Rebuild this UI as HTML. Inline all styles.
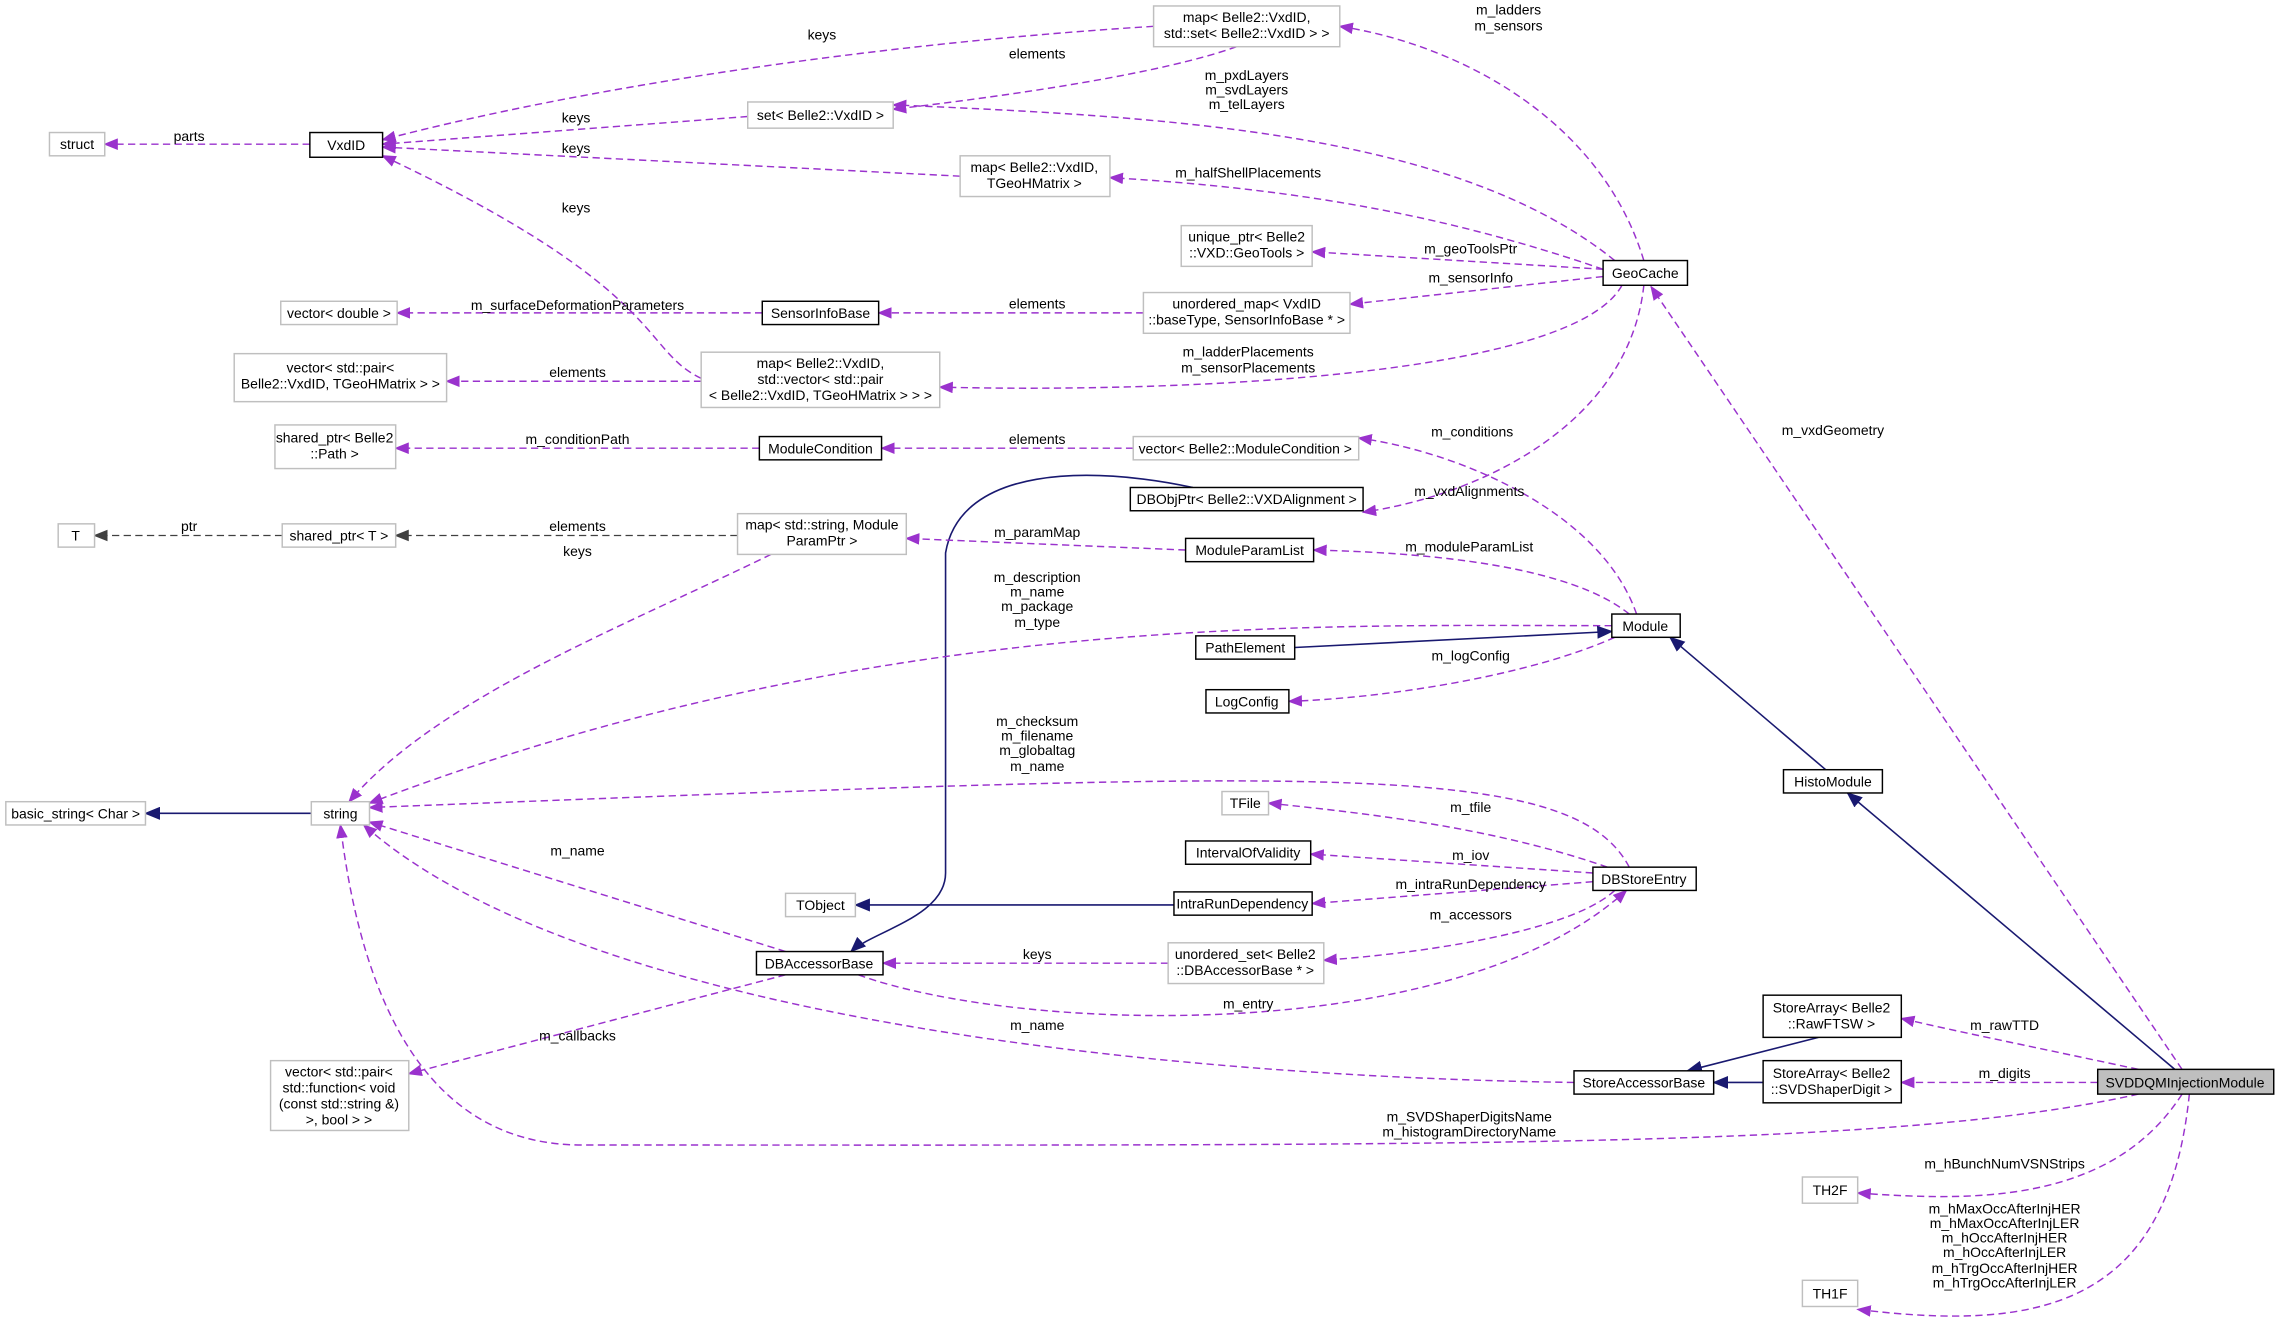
<!DOCTYPE html>
<html><head><meta charset="utf-8"><style>
html,body{margin:0;padding:0;background:#fff;}
svg{display:block;}
text{font-family:"Liberation Sans",sans-serif;font-size:9.6px;fill:#000;}
.g{fill:#fff;stroke:#bfbfbf;stroke-width:1;}
.b{fill:#fff;stroke:#000;stroke-width:1;}
.p{fill:none;stroke:#9a32cd;stroke-width:1;stroke-dasharray:5,3;}
.q{fill:none;stroke:#404040;stroke-width:0.8;stroke-dasharray:5,3;}
.n{fill:none;stroke:#191970;stroke-width:1.1;}
</style></head><body>
<svg width="2281" height="1327" viewBox="0 0 1568 912" xmlns="http://www.w3.org/2000/svg">
<defs>
<marker id="ap" markerWidth="10" markerHeight="8" refX="9" refY="4" orient="auto" markerUnits="userSpaceOnUse"><path d="M0,0 L10,4 L0,8 z" fill="#9a32cd"/></marker>
<marker id="ag" markerWidth="10" markerHeight="8" refX="9" refY="4" orient="auto" markerUnits="userSpaceOnUse"><path d="M0,0 L10,4 L0,8 z" fill="#404040"/></marker>
<marker id="an" markerWidth="11" markerHeight="9" refX="10" refY="4.5" orient="auto" markerUnits="userSpaceOnUse"><path d="M0,0 L11,4.5 L0,9 z" fill="#191970"/></marker>
</defs>
<!-- edges -->
<g>
<path class="p" marker-end="url(#ap)" d="M213,99 L72,99"/>
<path class="p" marker-end="url(#ap)" d="M793,18 C600,30 400,60 263,96"/>
<path class="p" marker-end="url(#ap)" d="M850,32 C800,50 700,65 614,75"/>
<path class="p" marker-end="url(#ap)" d="M514,80 L263,99"/>
<path class="p" marker-end="url(#ap)" d="M660,121 L263,101"/>
<path class="p" marker-end="url(#ap)" d="M482,260 C440,240 460,200 263,107"/>
<path class="p" marker-end="url(#ap)" d="M1130,179 C1100,80 1000,30 921,18"/>
<path class="p" marker-end="url(#ap)" d="M1110,179 C1000,90 800,80 614,72"/>
<path class="p" marker-end="url(#ap)" d="M1102,185 C1000,150 900,130 763,122"/>
<path class="p" marker-end="url(#ap)" d="M1102,185 L902,173"/>
<path class="p" marker-end="url(#ap)" d="M1102,190 L928,209"/>
<path class="p" marker-end="url(#ap)" d="M1115,196 C1080,260 800,270 646,266"/>
<path class="p" marker-end="url(#ap)" d="M1130,196 C1120,290 1020,340 937,352"/>
<path class="p" marker-end="url(#ap)" d="M1500,735 L1135,197"/>
<path class="p" marker-end="url(#ap)" d="M786,215 L604,215"/>
<path class="p" marker-end="url(#ap)" d="M524,215 L273,215"/>
<path class="p" marker-end="url(#ap)" d="M482,262 L307,262"/>
<path class="p" marker-end="url(#ap)" d="M522,308 L272,308"/>
<path class="p" marker-end="url(#ap)" d="M779,308 L606,308"/>
<path class="p" marker-end="url(#ap)" d="M1125,422 C1100,350 1000,310 934,301"/>
<path class="n" marker-end="url(#an)" d="M820,335 C750,320 660,320 650,380 L650,600 C650,630 600,640 585,654"/>
<path class="q" marker-end="url(#ag)" d="M194,368 L65,368"/>
<path class="q" marker-end="url(#ag)" d="M507,368 L272,368"/>
<path class="p" marker-end="url(#ap)" d="M815,378 L623,370"/>
<path class="p" marker-end="url(#ap)" d="M530,381 C430,430 300,480 240,551"/>
<path class="p" marker-end="url(#ap)" d="M1120,422 C1080,390 990,380 903,378"/>
<path class="p" marker-end="url(#ap)" d="M1108,430 C900,430 600,420 254,552"/>
<path class="n" marker-end="url(#an)" d="M890,445 L1108,434"/>
<path class="p" marker-end="url(#ap)" d="M1110,438 C1050,465 950,480 886,482"/>
<path class="n" marker-end="url(#an)" d="M1255,529 L1148,438"/>
<path class="n" marker-end="url(#an)" d="M1495,735 L1270,545"/>
<path class="n" marker-end="url(#an)" d="M214,559 L100,559"/>
<path class="p" marker-end="url(#ap)" d="M1120,596 C1080,520 900,530 254,555"/>
<path class="p" marker-end="url(#ap)" d="M1105,596 C1030,570 950,560 872,552"/>
<path class="p" marker-end="url(#ap)" d="M1095,600 L901,587"/>
<path class="p" marker-end="url(#ap)" d="M1095,606 L902,621"/>
<path class="n" marker-end="url(#an)" d="M807,622 L588,622"/>
<path class="p" marker-end="url(#ap)" d="M540,654 L254,565"/>
<path class="p" marker-end="url(#ap)" d="M803,662 L607,662"/>
<path class="p" marker-end="url(#ap)" d="M1110,612 C1080,640 980,655 910,660"/>
<path class="p" marker-end="url(#ap)" d="M590,670 C700,710 1000,720 1118,612"/>
<path class="p" marker-end="url(#ap)" d="M540,670 L281,738"/>
<path class="p" marker-end="url(#ap)" d="M1082,744 C800,740 400,700 250,567"/>
<path class="n" marker-end="url(#an)" d="M1250,713 L1160,736"/>
<path class="n" marker-end="url(#an)" d="M1212,744 L1178,744"/>
<path class="p" marker-end="url(#ap)" d="M1470,735 C1400,720 1350,710 1307,700"/>
<path class="p" marker-end="url(#ap)" d="M1442,744 L1307,744"/>
<path class="p" marker-end="url(#ap)" d="M1470,752 C1300,790 1000,787 400,787 C300,787 250,700 234,567"/>
<path class="p" marker-end="url(#ap)" d="M1500,752 C1450,830 1350,825 1277,820"/>
<path class="p" marker-end="url(#ap)" d="M1505,752 C1490,900 1400,915 1277,900"/>
</g>
<!-- edge labels -->
<g text-anchor="middle">
<text x="130" y="97">parts</text>
<text x="565" y="27">keys</text>
<text x="713" y="40">elements</text>
<text x="396" y="84">keys</text>
<text x="396" y="105">keys</text>
<text x="396" y="146">keys</text>
<text x="1037" y="10">m_ladders</text><text x="1037" y="21">m_sensors</text>
<text x="857" y="55">m_pxdLayers</text><text x="857" y="65">m_svdLayers</text><text x="857" y="75">m_telLayers</text>
<text x="858" y="122">m_halfShellPlacements</text>
<text x="1011" y="174">m_geoToolsPtr</text>
<text x="1011" y="194">m_sensorInfo</text>
<text x="858" y="245">m_ladderPlacements</text><text x="858" y="256">m_sensorPlacements</text>
<text x="1010" y="341">m_vxdAlignments</text>
<text x="1260" y="299">m_vxdGeometry</text>
<text x="713" y="212">elements</text>
<text x="397" y="213">m_surfaceDeformationParameters</text>
<text x="397" y="259">elements</text>
<text x="397" y="305">m_conditionPath</text>
<text x="713" y="305">elements</text>
<text x="1012" y="300">m_conditions</text>
<text x="130" y="365">ptr</text>
<text x="397" y="365">elements</text>
<text x="713" y="369">m_paramMap</text>
<text x="397" y="382">keys</text>
<text x="1010" y="379">m_moduleParamList</text>
<text x="713" y="400">m_description</text><text x="713" y="410">m_name</text><text x="713" y="420">m_package</text><text x="713" y="431">m_type</text>
<text x="1011" y="454">m_logConfig</text>
<text x="713" y="499">m_checksum</text><text x="713" y="509">m_filename</text><text x="713" y="519">m_globaltag</text><text x="713" y="530">m_name</text>
<text x="1011" y="558">m_tfile</text>
<text x="1011" y="591">m_iov</text>
<text x="1011" y="611">m_intraRunDependency</text>
<text x="397" y="588">m_name</text>
<text x="713" y="659">keys</text>
<text x="1011" y="632">m_accessors</text>
<text x="858" y="693">m_entry</text>
<text x="397" y="715">m_callbacks</text>
<text x="713" y="708">m_name</text>
<text x="1378" y="708">m_rawTTD</text>
<text x="1378" y="741">m_digits</text>
<text x="1010" y="771">m_SVDShaperDigitsName</text><text x="1010" y="781">m_histogramDirectoryName</text>
<text x="1378" y="803">m_hBunchNumVSNStrips</text>
<text x="1378" y="834">m_hMaxOccAfterInjHER</text><text x="1378" y="844">m_hMaxOccAfterInjLER</text><text x="1378" y="854">m_hOccAfterInjHER</text><text x="1378" y="864">m_hOccAfterInjLER</text><text x="1378" y="875">m_hTrgOccAfterInjHER</text><text x="1378" y="885">m_hTrgOccAfterInjLER</text>
</g>
<!-- nodes -->
<g text-anchor="middle">
<rect class="g" x="34" y="91" width="38" height="16"/><text x="53" y="102.5">struct</text>
<rect class="b" x="213" y="91" width="50" height="17"/><text x="238" y="103">VxdID</text>
<rect class="g" x="793" y="4" width="128" height="28"/><text x="857" y="15">map&lt; Belle2::VxdID,</text><text x="857" y="26">std::set&lt; Belle2::VxdID &gt; &gt;</text>
<rect class="g" x="514" y="70" width="100" height="18"/><text x="564" y="82.5">set&lt; Belle2::VxdID &gt;</text>
<rect class="g" x="660" y="107" width="103" height="28"/><text x="711" y="118">map&lt; Belle2::VxdID,</text><text x="711" y="129">TGeoHMatrix &gt;</text>
<rect class="g" x="812" y="155" width="90" height="28"/><text x="857" y="166">unique_ptr&lt; Belle2</text><text x="857" y="177">::VXD::GeoTools &gt;</text>
<rect class="b" x="1102" y="179" width="58" height="17"/><text x="1131" y="191">GeoCache</text>
<rect class="g" x="193" y="207" width="80" height="16"/><text x="233" y="218.5">vector&lt; double &gt;</text>
<rect class="b" x="524" y="207" width="80" height="16"/><text x="564" y="218.5">SensorInfoBase</text>
<rect class="g" x="786" y="201" width="142" height="28"/><text x="857" y="212">unordered_map&lt; VxdID</text><text x="857" y="223">::baseType, SensorInfoBase * &gt;</text>
<rect class="g" x="161" y="243" width="146" height="33"/><text x="234" y="256">vector&lt; std::pair&lt;</text><text x="234" y="267">Belle2::VxdID, TGeoHMatrix &gt; &gt;</text>
<rect class="g" x="482" y="242" width="164" height="38"/><text x="564" y="253">map&lt; Belle2::VxdID,</text><text x="564" y="264">std::vector&lt; std::pair</text><text x="564" y="275">&lt; Belle2::VxdID, TGeoHMatrix &gt; &gt; &gt;</text>
<rect class="g" x="189" y="292" width="83" height="30"/><text x="230" y="304">shared_ptr&lt; Belle2</text><text x="230" y="315">::Path &gt;</text>
<rect class="b" x="522" y="300" width="84" height="16"/><text x="564" y="311.5">ModuleCondition</text>
<rect class="g" x="779" y="300" width="155" height="16"/><text x="856" y="311.5">vector&lt; Belle2::ModuleCondition &gt;</text>
<rect class="b" x="777" y="335" width="160" height="16"/><text x="857" y="346.5">DBObjPtr&lt; Belle2::VXDAlignment &gt;</text>
<rect class="g" x="40" y="360" width="25" height="16"/><text x="52" y="371.5">T</text>
<rect class="g" x="194" y="360" width="78" height="16"/><text x="233" y="371.5">shared_ptr&lt; T &gt;</text>
<rect class="g" x="507" y="353" width="116" height="28"/><text x="565" y="364">map&lt; std::string, Module</text><text x="565" y="375">ParamPtr &gt;</text>
<rect class="b" x="815" y="370" width="88" height="16"/><text x="859" y="381.5">ModuleParamList</text>
<rect class="b" x="1108" y="422" width="47" height="16"/><text x="1131" y="433.5">Module</text>
<rect class="b" x="822" y="437" width="68" height="16"/><text x="856" y="448.5">PathElement</text>
<rect class="b" x="829" y="474" width="57" height="16"/><text x="857" y="485.5">LogConfig</text>
<rect class="g" x="4" y="551" width="96" height="16"/><text x="52" y="562.5">basic_string&lt; Char &gt;</text>
<rect class="g" x="214" y="551" width="40" height="16"/><text x="234" y="562.5">string</text>
<rect class="b" x="1226" y="529" width="68" height="16"/><text x="1260" y="540.5">HistoModule</text>
<rect class="g" x="840" y="544" width="32" height="16"/><text x="856" y="555.5">TFile</text>
<rect class="b" x="815" y="578" width="86" height="16"/><text x="858" y="589.5">IntervalOfValidity</text>
<rect class="b" x="1095" y="596" width="71" height="16"/><text x="1130" y="607.5">DBStoreEntry</text>
<rect class="g" x="540" y="614" width="48" height="16"/><text x="564" y="625.5">TObject</text>
<rect class="b" x="807" y="613" width="95" height="16"/><text x="854" y="624.5">IntraRunDependency</text>
<rect class="b" x="520" y="654" width="87" height="16"/><text x="563" y="665.5">DBAccessorBase</text>
<rect class="g" x="803" y="648" width="107" height="28"/><text x="856" y="659">unordered_set&lt; Belle2</text><text x="856" y="670">::DBAccessorBase * &gt;</text>
<rect class="g" x="186" y="729" width="95" height="48"/><text x="233" y="740">vector&lt; std::pair&lt;</text><text x="233" y="751">std::function&lt; void</text><text x="233" y="762">(const std::string &amp;)</text><text x="233" y="773">&gt;, bool &gt; &gt;</text>
<rect class="b" x="1212" y="684" width="95" height="29"/><text x="1259" y="696">StoreArray&lt; Belle2</text><text x="1259" y="707">::RawFTSW &gt;</text>
<rect class="b" x="1082" y="736" width="96" height="16"/><text x="1130" y="747.5">StoreAccessorBase</text>
<rect class="b" x="1212" y="729" width="95" height="29"/><text x="1259" y="741">StoreArray&lt; Belle2</text><text x="1259" y="752">::SVDShaperDigit &gt;</text>
<rect x="1442" y="735" width="121" height="17" fill="#bfbfbf" stroke="#000"/><text x="1502" y="747.5">SVDDQMInjectionModule</text>
<rect class="g" x="1239" y="809" width="38" height="18"/><text x="1258" y="821.5">TH2F</text>
<rect class="g" x="1239" y="880" width="38" height="18"/><text x="1258" y="892.5">TH1F</text>
</g>
</svg>
</body></html>
